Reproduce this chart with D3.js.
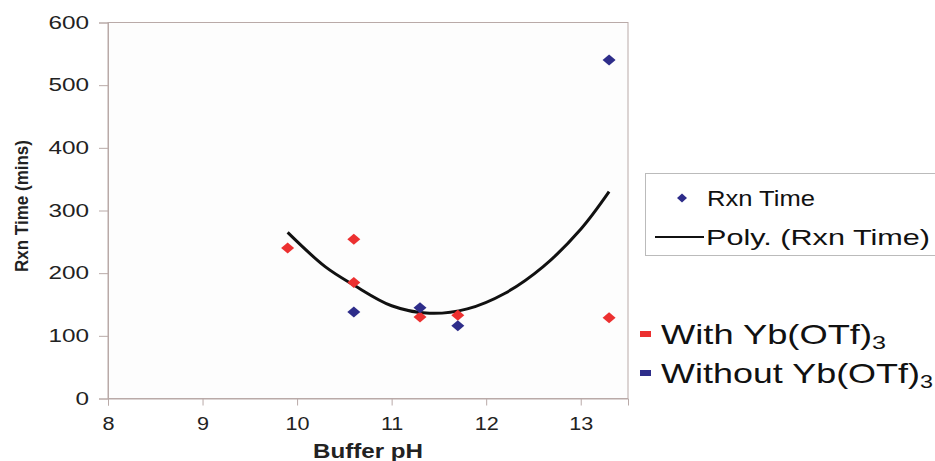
<!DOCTYPE html>
<html>
<head>
<meta charset="utf-8">
<script src="https://d3js.org/d3.v7.min.js"></script>
<style>
  body { margin: 0; background: #fff; }
  svg { display: block; font-family: Arial, "Liberation Sans", sans-serif; }
</style>
</head>
<body>
<svg id="chart" width="935" height="461"></svg>
<script>
// data
const withPH = [9.9, 10.6, 10.6, 11.3, 11.7, 13.3];
const withTime = [240, 254, 185, 130, 133, 129];
const withoutPH = [10.6, 11.3, 11.7, 13.3];
const withoutTime = [138, 145, 116, 540];
// trend line (Poly. Rxn Time)
const trendPH = [9.9, 10.3, 10.6, 11.0, 11.4, 11.8, 12.2, 12.6, 13.0, 13.3];
const trendTime = [265, 210, 181, 148, 136, 143, 168, 210, 270, 330];
const xTicks = [8, 9, 10, 11, 12, 13];
const yTicks = [0, 100, 200, 300, 400, 500, 600];

const svg = d3.select("#chart");
const plotLeft = 108, plotRight = 628, plotTop = 22.5, plotBottom = 398.5;

const x = d3.scaleLinear().domain([8, 13.5]).range([plotLeft, plotRight]);
const y = d3.scaleLinear().domain([0, 600]).range([plotBottom, plotTop]);

const gridColor = "#b9aaa8";

// the source picture is stretched sideways, so widen text to match
function stretch(sel, k) {
  sel.each(function () {
    const w = this.getComputedTextLength();
    d3.select(this).attr("textLength", w * k).attr("lengthAdjust", "spacingAndGlyphs");
  });
}

// plot frame
svg.append("rect")
    .attr("x", plotLeft).attr("y", plotTop)
    .attr("width", plotRight - plotLeft).attr("height", plotBottom - plotTop)
    .attr("fill", "#fdfdfd").attr("stroke", gridColor).attr("stroke-width", 1);

// axes
const yAxis = svg.append("g")
    .attr("transform", `translate(${plotLeft},0)`)
    .call(d3.axisLeft(y).tickValues(yTicks).tickSize(9).tickPadding(10));
const xAxis = svg.append("g")
    .attr("transform", `translate(0,${plotBottom})`)
    .call(d3.axisBottom(x).tickValues(xTicks).tickFormat(d3.format("d")).tickSize(7).tickPadding(12));

[xAxis, yAxis].forEach(g => {
  g.selectAll("path, line").attr("stroke", gridColor);
  g.selectAll("text").attr("fill", "#222").style("font-size", "18px");
});
stretch(yAxis.selectAll("text"), 1.35);
stretch(xAxis.selectAll("text"), 1.2);

// axis titles
svg.append("text")
    .attr("x", 368).attr("y", 458)
    .attr("text-anchor", "middle")
    .style("font-size", "20px").style("font-weight", "bold").attr("fill", "#222")
    .attr("textLength", 110).attr("lengthAdjust", "spacingAndGlyphs")
    .text("Buffer pH");
svg.append("text")
    .attr("transform", "translate(28,206) rotate(-90)")
    .attr("text-anchor", "middle")
    .style("font-size", "18px").style("font-weight", "bold").attr("fill", "#222")
    .attr("textLength", 132).attr("lengthAdjust", "spacingAndGlyphs")
    .text("Rxn Time (mins)");

// trend line
const trend = trendPH.map((p, i) => [p, trendTime[i]]);
svg.append("path")
    .datum(trend)
    .attr("fill", "none").attr("stroke", "#111").attr("stroke-width", 3)
    .attr("d", d3.line().x(d => x(d[0])).y(d => y(d[1])).curve(d3.curveCatmullRom));

const diamond = "M0,-5.5L6.5,0L0,5.5L-6.5,0Z";
const red = "#ec3030", blue = "#2e2d8a";

svg.append("g").selectAll("path")
    .data(withPH.map((p, i) => [p, withTime[i]]))
    .join("path")
    .attr("d", diamond)
    .attr("transform", d => `translate(${x(d[0])},${y(d[1])})`)
    .attr("fill", red);

svg.append("g").selectAll("path")
    .data(withoutPH.map((p, i) => [p, withoutTime[i]]))
    .join("path")
    .attr("d", diamond)
    .attr("transform", d => `translate(${x(d[0])},${y(d[1])})`)
    .attr("fill", blue);

// legend box
svg.append("rect")
    .attr("x", 645.5).attr("y", 173.5).attr("width", 300).attr("height", 82)
    .attr("fill", "#fff").attr("stroke", "#bbb");
svg.append("path").attr("d", "M0,-4.5L5,0L0,4.5L-5,0Z")
    .attr("transform", "translate(682,198)").attr("fill", blue);
svg.append("text").attr("x", 707).attr("y", 206)
    .style("font-size", "22px").attr("fill", "#111")
    .attr("textLength", 108).attr("lengthAdjust", "spacingAndGlyphs")
    .text("Rxn Time");
svg.append("line").attr("x1", 655).attr("x2", 704).attr("y1", 237).attr("y2", 237)
    .attr("stroke", "#111").attr("stroke-width", 2);
svg.append("text").attr("x", 706).attr("y", 245)
    .style("font-size", "22px").attr("fill", "#111")
    .attr("textLength", 224).attr("lengthAdjust", "spacingAndGlyphs")
    .text("Poly. (Rxn Time)");

// series legend
const seriesLegend = [
  {label: "With Yb(OTf)", color: red, y: 344, w: 211, sw: 14},
  {label: "Without Yb(OTf)", color: blue, y: 383, w: 259, sw: 13}
];
seriesLegend.forEach(s => {
  svg.append("rect").attr("x", 640).attr("y", s.y - 13).attr("width", 11).attr("height", 6)
      .attr("fill", s.color);
  const t = svg.append("text").attr("x", 661).attr("y", s.y)
      .style("font-size", "28px").attr("fill", "#111");
  t.append("tspan").attr("textLength", s.w).attr("lengthAdjust", "spacingAndGlyphs").text(s.label);
  t.append("tspan").attr("dy", 5).style("font-size", "19px")
      .attr("textLength", s.sw).attr("lengthAdjust", "spacingAndGlyphs").text("3");
});
</script>
</body>
</html>
